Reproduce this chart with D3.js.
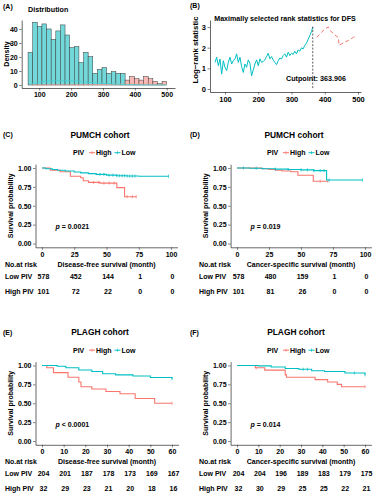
<!DOCTYPE html>
<html>
<head>
<meta charset="utf-8">
<script src="https://cdn.jsdelivr.net/npm/d3@7"></script>
<style>
  body { margin: 0; background: #fff; }
  text { font-family: "Liberation Sans", Arial, sans-serif; font-weight: bold; fill: #000; }
</style>
</head>
<body>
<svg id="chart" width="375" height="500"></svg>
<script>
// ---- data ----
// (A) histogram, bins of 14.5 starting at 65
var histStart = 65, histWidth = 14.5;
var histLow = [23.3, 44.8, 41.7, 43.6, 40, 32.6, 38.6, 42.9, 35.7, 26.7, 27.4, 16, 23.3, 20.2, 8.3, 11.2, 12.4, 8.3, 9.5, 8.3, 8.3];
var histHigh = [3.5, 6, 4.5, 3.5, 6, 4.5, 2.5, 1, 2.5];
var densX = [70, 90, 110, 130, 150, 170, 190, 210, 230, 250, 270, 290, 310, 330, 350, 370, 400, 430, 460, 500];
var densLow = [0.4, 1.6, 2.4, 2.9, 3.1, 3.1, 3.0, 2.8, 2.5, 2.1, 1.7, 1.3, 1.0, 0.7, 0.5, 0.3, 0.2, 0.1, 0.1, 0.1];
var densHigh = [0.1, 0.1, 0.1, 0.1, 0.1, 0.1, 0.1, 0.2, 0.2, 0.2, 0.3, 0.3, 0.4, 0.4, 0.5, 0.6, 0.7, 0.6, 0.5, 0.4];

// (B) maximally selected rank statistics
var rankLowX = [70, 75, 80, 85, 90, 95, 100, 105, 110, 115, 120, 125, 130, 135, 140, 145, 150, 155, 160, 165, 170, 175, 180, 185, 190, 195, 200, 205, 210, 215, 220, 225, 230, 235, 240, 245, 250, 255, 260, 265, 270, 275, 280, 285, 290, 295, 300, 305, 310, 315, 320, 325, 330, 335, 340, 345, 350, 355, 360, 363.9];
var rankLowY = [1.29, 1.54, 1.13, 1.45, 0.72, 1.37, 1.05, 0.89, 1.29, 1.54, 1.21, 1.37, 1.46, 1.70, 1.29, 1.54, 1.08, 0.80, 1.21, 1.05, 1.41, 1.24, 0.64, 0.92, 1.21, 1.41, 1.13, 1.46, 1.29, 1.34, 1.41, 1.57, 1.73, 1.46, 1.57, 1.41, 1.29, 1.18, 1.37, 1.50, 1.46, 1.62, 1.70, 1.54, 1.78, 1.62, 1.73, 1.67, 1.83, 1.70, 1.89, 1.83, 1.99, 1.94, 2.11, 2.22, 2.40, 2.58, 2.78, 3.0];
var rankHighX = [376, 383, 391, 396, 403, 411, 416, 421, 426, 431, 436, 441, 443, 450, 457, 464, 471, 486, 491, 496];
var rankHighY = [2.5, 2.62, 2.75, 2.85, 2.93, 3.0, 2.85, 2.75, 2.7, 2.6, 2.55, 2.5, 2.12, 2.18, 2.24, 2.3, 2.35, 2.5, 2.55, 2.6];
var cutpoint = 363.906;

// (C) PUMCH disease-free survival
var cLowT = [0, 3, 8, 12, 18, 25, 30, 36, 42, 50, 58, 66, 75, 98];
var cLowS = [1, 0.99, 0.98, 0.97, 0.96, 0.947, 0.935, 0.925, 0.915, 0.905, 0.898, 0.893, 0.89, 0.89];
var cHighT = [0, 6.4, 14, 22, 30, 32, 36, 45, 58, 64, 73];
var cHighS = [1, 0.97, 0.95, 0.89, 0.87, 0.83, 0.81, 0.80, 0.74, 0.62, 0.62];
var cLowCens = [45, 48, 52, 55, 58, 60, 62, 64, 66, 68, 70, 72, 98];
var cHighCens = [40, 44, 48, 52, 56, 66, 70, 73];
var cRiskLow = [578, 452, 144, 1, 0];
var cRiskHigh = [101, 72, 22, 0, 0];

// (D) PUMCH cancer-specific survival
var dLowT = [0, 10, 20, 30, 40, 50, 60, 70, 98];
var dLowS = [1, 0.997, 0.99, 0.985, 0.98, 0.975, 0.965, 0.84, 0.84];
var dHighT = [0, 19, 25, 30, 35, 42, 47.6, 59.6, 71];
var dHighS = [1, 0.99, 0.98, 0.97, 0.96, 0.95, 0.904, 0.825, 0.825];
var dLowCens = [5, 15, 30, 40, 50, 55, 60, 65, 68, 72, 98];
var dHighCens = [65, 71];
var dRiskLow = [578, 480, 159, 1, 0];
var dRiskHigh = [101, 81, 26, 0, 0];

// (E) PLAGH disease-free survival
var eLowT = [0, 7, 11, 17, 23, 28, 34, 42, 50, 60];
var eLowS = [1, 0.99, 0.97, 0.94, 0.92, 0.89, 0.875, 0.86, 0.84, 0.825];
var eHighT = [0, 2.2, 5.3, 12, 17, 18, 23, 29.5, 36, 43, 52, 60];
var eHighS = [1, 0.969, 0.906, 0.844, 0.781, 0.719, 0.688, 0.656, 0.625, 0.563, 0.5, 0.5];
var eLowCens = [60];
var eHighCens = [60];
var eRiskLow = [204, 201, 187, 178, 173, 169, 167];
var eRiskHigh = [32, 29, 23, 21, 20, 18, 16];

// (F) PLAGH cancer-specific survival
var fLowT = [0, 10, 16, 22.6, 29, 35, 41, 50.6, 60];
var fLowS = [1, 0.995, 0.98, 0.96, 0.95, 0.93, 0.92, 0.90, 0.877];
var fHighT = [0, 8.6, 13, 22.6, 23.2, 36.6, 42.5, 47, 49, 60];
var fHighS = [1, 0.969, 0.938, 0.875, 0.844, 0.813, 0.781, 0.75, 0.719, 0.719];
var fLowCens = [31, 33, 55, 60];
var fHighCens = [9, 60];
var fRiskLow = [204, 204, 196, 189, 183, 179, 175];
var fRiskHigh = [32, 30, 29, 25, 25, 22, 21];

var pink = '#F8766D', cyan = '#00BFC4';
var svg = d3.select('#chart');

var styleAxis = function(sel, size) {
	sel.selectAll('path').attr('stroke', '#000').attr('stroke-width', 0.6);
	sel.selectAll('line').attr('stroke', '#333').attr('stroke-width', 0.6);
	sel.selectAll('text').attr('font-size', size || 7).style('font-family', '"Liberation Sans", Arial, sans-serif').style('font-weight', 'bold').attr('fill', '#000');
};

// ---- (A) Distribution ----
(function() {
	var x = d3.scaleLinear().domain([45, 526]).range([21.7, 175]);
	var y = d3.scaleLinear().domain([-2.14, 46.4]).range([88, 20]);
	var g = svg.append('g');

	histLow.concat(histHigh).forEach(function(h, i) {
		var x0 = histStart + i * histWidth;
		g.append('rect')
			.attr('x', x(x0))
			.attr('y', y(h))
			.attr('width', x(x0 + histWidth) - x(x0))
			.attr('height', y(0) - y(h))
			.attr('fill', i < histLow.length ? '#72d8da' : '#f9b8b3')
			.attr('stroke', '#3a3a3a')
			.attr('stroke-width', 0.5);
	});

	var dl = d3.line().x(function(d, i) { return x(densX[i]); }).y(function(d) { return y(d); }).curve(d3.curveBasis);
	g.append('path').attr('d', dl(densHigh)).attr('fill', 'none').attr('stroke', '#f6a49d').attr('stroke-width', 0.8);
	g.append('path').attr('d', dl(densLow)).attr('fill', 'none').attr('stroke', '#3fcfd2').attr('stroke-width', 0.8);

	g.append('g').attr('transform', 'translate(21.7,0)')
		.call(d3.axisLeft(y).tickValues([0, 10, 20, 30, 40]).tickFormat(d3.format('d')).tickSize(2.5).tickSizeOuter(0).tickPadding(1.5))
		.call(styleAxis);
	g.append('g').attr('transform', 'translate(0,88)')
		.call(d3.axisBottom(x).tickValues([100, 200, 300, 400, 500]).tickFormat(d3.format('d')).tickSize(2.5).tickSizeOuter(0).tickPadding(2))
		.call(styleAxis);

	g.append('text').attr('x', 3).attr('y', 8.5).attr('font-size', 7).text('(A)');
	g.append('text').attr('x', 28).attr('y', 12).attr('font-size', 7.2).text('Distribution');
	g.append('text').attr('transform', 'translate(8.5,54) rotate(-90)').attr('text-anchor', 'middle').attr('font-size', 7).text('Density');
})();

// ---- (B) Maximally selected rank statistics ----
(function() {
	var x = d3.scaleLinear().domain([54.9, 509]).range([210, 361]);
	var y = d3.scaleLinear().domain([-0.145, 3.34]).range([92, 20]);
	var g = svg.append('g');

	var line = d3.line().x(function(d) { return x(d[0]); }).y(function(d) { return y(d[1]); });
	g.append('path').datum(rankLowX.map(function(v, i) { return [v, rankLowY[i]]; }))
		.attr('d', line).attr('fill', 'none').attr('stroke', cyan).attr('stroke-width', 1);
	g.append('path').datum(rankHighX.map(function(v, i) { return [v, rankHighY[i]]; }))
		.attr('d', line).attr('fill', 'none').attr('stroke', pink).attr('stroke-width', 1)
		.attr('stroke-dasharray', '4,2.5');

	g.append('line')
		.attr('x1', x(cutpoint)).attr('x2', x(cutpoint))
		.attr('y1', y(3.02)).attr('y2', y(0))
		.attr('stroke', '#333').attr('stroke-width', 0.8).attr('stroke-dasharray', '2,1.5');

	g.append('g').attr('transform', 'translate(210,0)')
		.call(d3.axisLeft(y).tickValues([0, 1, 2, 3]).tickFormat(d3.format('d')).tickSize(2.5).tickSizeOuter(0).tickPadding(1.5))
		.call(styleAxis, 7.5);
	g.append('g').attr('transform', 'translate(0,92)')
		.call(d3.axisBottom(x).tickValues([100, 200, 300, 400, 500]).tickFormat(d3.format('d')).tickSize(2.5).tickSizeOuter(0).tickPadding(2))
		.call(styleAxis, 7.5);

	g.append('text').attr('x', 190).attr('y', 8).attr('font-size', 7).text('(B)');
	g.append('text').attr('x', 285).attr('y', 20.5).attr('text-anchor', 'middle').attr('font-size', 7.1).text('Maximally selected rank statistics for DFS');
	g.append('text').attr('transform', 'translate(197.5,50) rotate(-90)').attr('text-anchor', 'middle').attr('font-size', 7.8).text('Log\u2212rank statistic');
	g.append('text').attr('x', 286).attr('y', 80.5).attr('font-size', 7.2).text('Cutpoint: ' + cutpoint);
})();

// ---- Kaplan-Meier panels ----
var km = function(o) {
	var g = svg.append('g');
	var x = d3.scaleLinear().domain([-0.05 * o.tmax, 1.05 * o.tmax]).range([o.left, o.right]);
	var y = d3.scaleLinear().domain([-0.05, 1.05]).range([o.bottom, o.top]);

	g.append('g').attr('transform', 'translate(' + o.left + ',0)')
		.call(d3.axisLeft(y).tickValues([0, 0.25, 0.5, 0.75, 1]).tickFormat(d3.format('.2f')).tickSize(2.5).tickSizeOuter(0).tickPadding(1.5))
		.call(styleAxis);
	g.append('g').attr('transform', 'translate(0,' + o.bottom + ')')
		.call(d3.axisBottom(x).tickValues(o.ticks).tickFormat(d3.format('d')).tickSize(2.5).tickSizeOuter(0).tickPadding(2))
		.call(styleAxis);

	var step = d3.line().x(function(d) { return x(d[0]); }).y(function(d) { return y(d[1]); }).curve(d3.curveStepAfter);
	var survAt = function(T, S, t) {
		var s = S[0];
		T.forEach(function(v, i) { if (v <= t) s = S[i]; });
		return s;
	};
	[[o.highT, o.highS, o.highC, pink], [o.lowT, o.lowS, o.lowC, cyan]].forEach(function(c) {
		g.append('path').datum(c[0].map(function(t, i) { return [t, c[1][i]]; }))
			.attr('d', step).attr('fill', 'none').attr('stroke', c[3]).attr('stroke-width', 1.1);
		g.selectAll(null).data(c[2]).enter().append('line')
			.attr('x1', function(t) { return x(t); }).attr('x2', function(t) { return x(t); })
			.attr('y1', function(t) { return y(survAt(c[0], c[1], t)) - 1.6; })
			.attr('y2', function(t) { return y(survAt(c[0], c[1], t)) + 1.6; })
			.attr('stroke', c[3]).attr('stroke-width', 0.7);
	});

	// labels
	g.append('text').attr('x', o.tagX).attr('y', o.top - 27).attr('font-size', 7).text(o.tag);
	g.append('text').attr('x', o.titleX).attr('y', o.top - 26.5).attr('text-anchor', 'middle').attr('font-size', 8.4).text(o.title);
	g.append('text').attr('transform', 'translate(' + (o.left - 23) + ',' + ((o.top + o.bottom) / 2) + ') rotate(-90)')
		.attr('text-anchor', 'middle').attr('font-size', 7).text('Survival probability');

	// legend
	var lg = g.append('g').attr('transform', 'translate(' + o.legendX + ',' + (o.top - 9) + ')');
	lg.append('text').attr('x', 0).attr('y', 0).attr('font-size', 7).text('PIV');
	[[pink, 'High', 16], [cyan, 'Low', 41.5]].forEach(function(k) {
		lg.append('line').attr('x1', k[2]).attr('x2', k[2] + 6).attr('y1', -2.5).attr('y2', -2.5).attr('stroke', k[0]).attr('stroke-width', 1);
		lg.append('line').attr('x1', k[2] + 3).attr('x2', k[2] + 3).attr('y1', -4).attr('y2', -1).attr('stroke', k[0]).attr('stroke-width', 0.7);
		lg.append('text').attr('x', k[2] + 7).attr('y', 0).attr('font-size', 7).text(k[1]);
	});

	// p value
	var pt = g.append('text').attr('x', o.left + 20).attr('y', y(0.19)).attr('font-size', 7);
	pt.append('tspan').style('font-style', 'italic').text('p');
	pt.append('tspan').text(' ' + o.p);

	// risk table
	g.append('text').attr('x', o.tableX).attr('y', o.bottom + 19.5).attr('font-size', 7).text('No.at risk');
	g.append('text').attr('x', (o.left + o.right) / 2).attr('y', o.bottom + 19.5).attr('text-anchor', 'middle').attr('font-size', 7).text(o.xlab);
	[['Low PIV', o.riskLow, 31.5], ['High PIV', o.riskHigh, 46.3]].forEach(function(r) {
		g.append('text').attr('x', o.tableX).attr('y', o.bottom + r[2]).attr('font-size', 7).text(r[0]);
		g.selectAll(null).data(r[1]).enter().append('text')
			.attr('x', function(d, i) { return x(o.ticks[i]) + 1.5; })
			.attr('y', o.bottom + r[2])
			.attr('text-anchor', 'middle').attr('font-size', 7)
			.text(function(d) { return d; });
	});
};

km({ tag: '(C)', tagX: 3, title: 'PUMCH cohort', titleX: 100, legendX: 73, tableX: 5,
	left: 35.5, right: 177.5, top: 164.2, bottom: 247.3, tmax: 100, ticks: [0, 25, 50, 75, 100],
	lowT: cLowT, lowS: cLowS, lowC: cLowCens, highT: cHighT, highS: cHighS, highC: cHighCens,
	p: '= 0.0021', xlab: 'Disease-free survival (month)', riskLow: cRiskLow, riskHigh: cRiskHigh });

km({ tag: '(D)', tagX: 190, title: 'PUMCH cohort', titleX: 294, legendX: 267, tableX: 199,
	left: 230.6, right: 371.4, top: 164.2, bottom: 247.3, tmax: 100, ticks: [0, 25, 50, 75, 100],
	lowT: dLowT, lowS: dLowS, lowC: dLowCens, highT: dHighT, highS: dHighS, highC: dHighCens,
	p: '= 0.019', xlab: 'Cancer-specific survival (month)', riskLow: dRiskLow, riskHigh: dRiskHigh });

km({ tag: '(E)', tagX: 3, title: 'PLAGH cohort', titleX: 100, legendX: 73, tableX: 5,
	left: 35.5, right: 178.5, top: 361.7, bottom: 444.8, tmax: 60, ticks: [0, 10, 20, 30, 40, 50, 60],
	lowT: eLowT, lowS: eLowS, lowC: eLowCens, highT: eHighT, highS: eHighS, highC: eHighCens,
	p: '< 0.0001', xlab: 'Disease-free survival (month)', riskLow: eRiskLow, riskHigh: eRiskHigh });

km({ tag: '(F)', tagX: 190, title: 'PLAGH cohort', titleX: 296, legendX: 267, tableX: 199,
	left: 230.6, right: 371.4, top: 361.7, bottom: 444.8, tmax: 60, ticks: [0, 10, 20, 30, 40, 50, 60],
	lowT: fLowT, lowS: fLowS, lowC: fLowCens, highT: fHighT, highS: fHighS, highC: fHighCens,
	p: '= 0.014', xlab: 'Cancer-specific survival (month)', riskLow: fRiskLow, riskHigh: fRiskHigh });
</script>
</body>
</html>
